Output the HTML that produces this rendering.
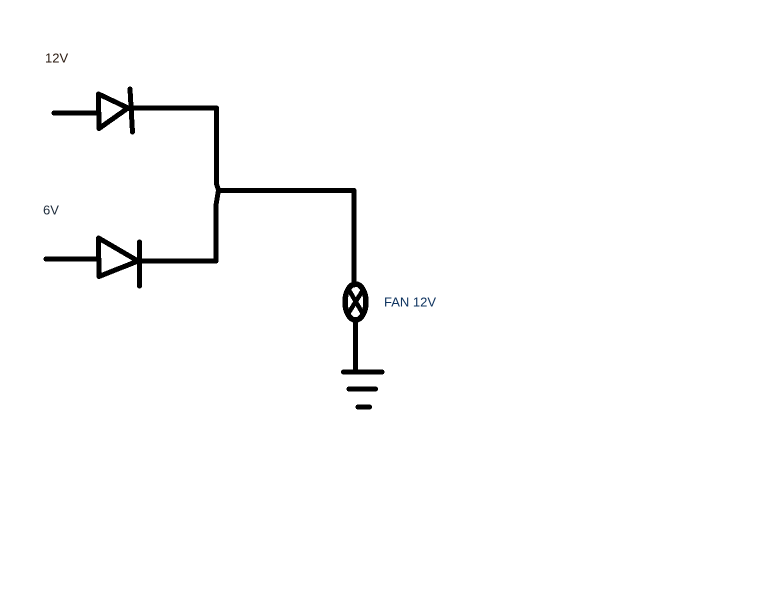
<!DOCTYPE html>
<html>
<head>
<meta charset="utf-8">
<style>
html,body{margin:0;padding:0;background:#fff;width:768px;height:614px;overflow:hidden}
svg{display:block}
text{font-family:"Liberation Sans",sans-serif;font-size:13px;fill:#222}
</style>
</head>
<body>
<svg width="768" height="614" viewBox="0 0 768 614" xmlns="http://www.w3.org/2000/svg">
<rect width="768" height="614" fill="#fff"/>
<g fill="none" stroke="#000" stroke-width="5" stroke-linecap="round" stroke-linejoin="round" shape-rendering="crispEdges">
<path d="M54 113H98"/>
<path d="M98.500 94L99 128.500L128 108Z"/>
<path d="M130 89L132.500 132"/>
<path d="M130 108H216.500V184L218.500 190L216 205V261H139"/>
<path d="M46 259H98"/>
<path d="M98.500 238L99 276.500L138 261Z"/>
<path d="M139.500 242V286"/>
<path d="M219 190.500H354V285"/>
<ellipse cx="355.500" cy="302" rx="10.500" ry="18" stroke-width="5.500"/>
<path d="M349 290L363 314M363 290L348 314" stroke-width="4.500"/>
<path d="M355.500 320V372"/>
<path d="M343.500 372H382"/>
<path d="M349 389H375.500"/>
<path d="M358 407H369.500"/>
</g>
<text x="45" y="62.500" style="fill:#2a1a10">12V</text>
<text x="43" y="214.500" style="fill:#1c2a3a">6V</text>
<text x="384" y="306.500" style="fill:#0f3460">FAN 12V</text>
</svg>
</body>
</html>
